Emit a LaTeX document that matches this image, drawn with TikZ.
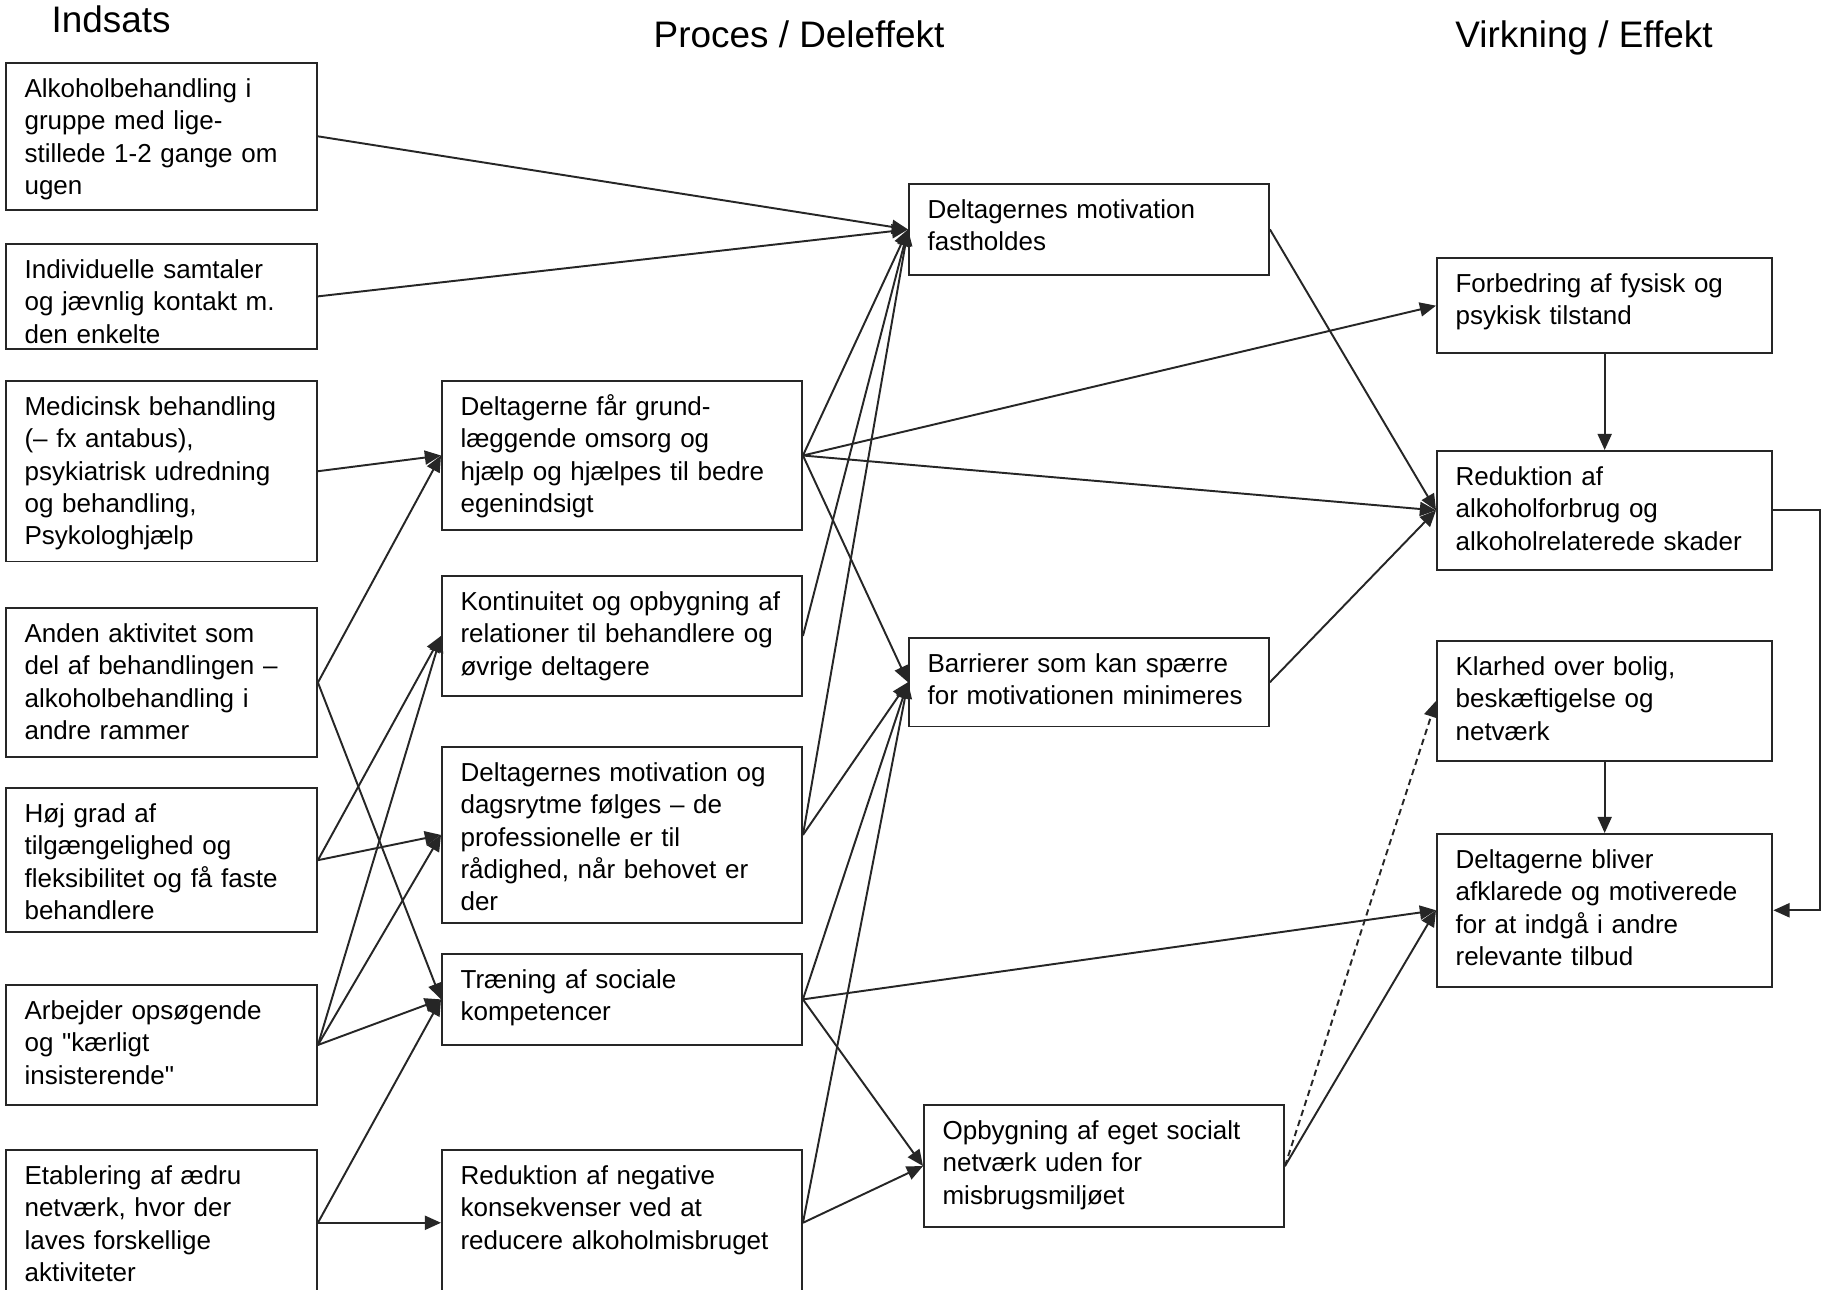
\documentclass[tikz,border=0pt]{standalone}
\usepackage{fontspec}
\setmainfont{Liberation Sans}
\usetikzlibrary{arrows.meta}

\begin{document}
\begin{tikzpicture}[x=0.1mm, y=-0.1mm, font=\fontsize{7.4pt}{9.2pt}\selectfont, line width=0.55pt]

    % Styles
    \tikzstyle{box} = [draw=black!85, anchor=north west, align=left, inner xsep=1.86mm, inner ysep=0pt, text height=3.45mm]
    \tikzstyle{lbox} = [box, text width=27.38mm]
    \tikzstyle{mbox} = [box, text width=32.28mm]
    \tikzstyle{rbox} = [box, text width=29.82mm]
    \tikzstyle{arr} = [draw=black!85, -{Triangle[length=4.6pt, width=4pt]}]
    \tikzstyle{title} = [font=\fontsize{10.5pt}{12pt}\selectfont, anchor=base]

    % Canvas
    \path[use as bounding box, fill=white] (0,0) rectangle (1826,1289);
    \clip (0,0) rectangle (1826,1289);

    % --- HEADINGS ---
    \node[title] (indsats) at (111,32) {Indsats};
    \node[title] (proces) at (799,47) {Proces / Deleffekt};
    \node[title] (virkning) at (1584,47) {Virkning / Effekt};

    % --- INDSATS ---
    \node[lbox, text depth=11.22mm] (gruppe) at (5,62) {Alkoholbehandling i\\gruppe med lige-\\stillede 1-2 gange om\\ugen};
    \node[lbox, text depth=7.03mm] (samtaler) at (5,243) {Individuelle samtaler\\og jævnlig kontakt m.\\den enkelte};
    \node[lbox, text depth=14.6mm] (medicin) at (5,380) {Medicinsk behandling\\(– fx antabus),\\psykiatrisk udredning\\og behandling,\\Psykologhjælp};
    \node[lbox, text depth=11.46mm] (aktivitet) at (5,607) {Anden aktivitet som\\del af behandlingen –\\alkoholbehandling i\\andre rammer};
    \node[lbox, text depth=10.99mm] (tilgaeng) at (5,787) {Høj grad af\\tilgængelighed og\\fleksibilitet og få faste\\behandlere};
    \node[lbox, text depth=8.55mm] (opsoeg) at (5,984) {Arbejder opsøgende\\og \textquotedbl kærligt\\insisterende\textquotedbl};
    \node[lbox, text depth=11.11mm] (netvaerk) at (5,1149) {Etablering af ædru\\netværk, hvor der\\laves forskellige\\aktiviteter};

    % --- PROCES / DELEFFEKT ---
    \node[mbox, text depth=11.46mm] (omsorg) at (441,380) {Deltagerne får grund-\\læggende omsorg og\\hjælp og hjælpes til bedre\\egenindsigt};
    \node[mbox, text depth=8.54mm] (kontinuitet) at (441,575) {Kontinuitet og opbygning af\\relationer til behandlere og\\øvrige deltagere};
    \node[mbox, text depth=14.14mm] (dagsrytme) at (441,746) {Deltagernes motivation og\\dagsrytme følges – de\\professionelle er til\\rådighed, når behovet er\\der};
    \node[mbox, text depth=5.63mm] (traening) at (441,953) {Træning af sociale\\kompetencer};
    \node[mbox, text depth=11.11mm] (reduktion) at (441,1149) {Reduktion af negative\\konsekvenser ved at\\reducere alkoholmisbruget};

    \node[mbox, text depth=5.64mm] (motivation) at (908,183) {Deltagernes motivation\\fastholdes};
    \node[mbox, text depth=5.4mm] (barrierer) at (908,637) {Barrierer som kan spærre\\for motivationen minimeres};
    \node[mbox, text depth=8.77mm] (socialt) at (923,1104) {Opbygning af eget socialt\\netværk uden for\\misbrugsmiljøet};

    % --- VIRKNING / EFFEKT ---
    \node[rbox, text depth=6.09mm] (fysisk) at (1436,257) {Forbedring af fysisk og\\psykisk tilstand};
    \node[rbox, text depth=8.43mm] (alkohol) at (1436,450) {Reduktion af\\alkoholforbrug og\\alkoholrelaterede skader};
    \node[rbox, text depth=8.54mm] (klarhed) at (1436,640) {Klarhed over bolig,\\beskæftigelse og\\netværk};
    \node[rbox, text depth=11.81mm] (afklaret) at (1436,833) {Deltagerne bliver\\afklarede og motiverede\\for at indgå i andre\\relevante tilbud};

    % --- CONNECTORS ---
    \foreach \a/\b in {gruppe/motivation, samtaler/motivation, medicin/omsorg,
        aktivitet/omsorg, aktivitet/traening, tilgaeng/kontinuitet, tilgaeng/dagsrytme,
        opsoeg/kontinuitet, opsoeg/dagsrytme, opsoeg/traening,
        netvaerk/traening, netvaerk/reduktion,
        omsorg/motivation, omsorg/fysisk, omsorg/alkohol, omsorg/barrierer,
        kontinuitet/motivation, dagsrytme/motivation, dagsrytme/barrierer,
        traening/barrierer, traening/afklaret, traening/socialt,
        reduktion/barrierer, reduktion/socialt,
        motivation/alkohol, barrierer/alkohol, socialt/afklaret}
        \draw[arr] (\a.east) -- (\b.west);

    \draw[arr, dashed, dash pattern=on 1.8pt off 1.2pt] (socialt.east) -- (klarhed.west);
    \draw[arr] (fysisk.south) -- (alkohol.north);
    \draw[arr] (klarhed.south) -- (afklaret.north);
    \draw[arr] (alkohol.east) -- ++(47,0) |- (afklaret.east);

\end{tikzpicture}
\end{document}
